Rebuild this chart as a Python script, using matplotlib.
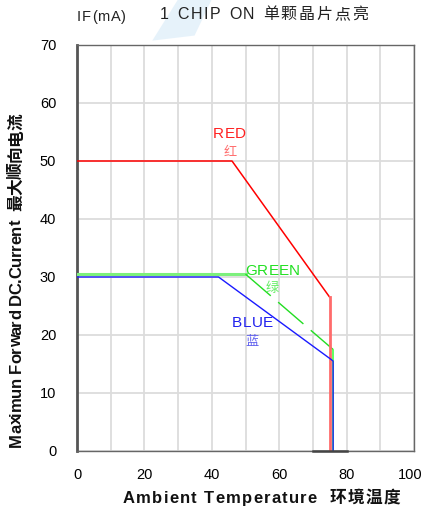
import matplotlib.pyplot as plt
from matplotlib.patches import Polygon
from matplotlib.transforms import IdentityTransform, ScaledTranslation

plt.rcParams['font.family'] = ['Liberation Sans', 'Noto Sans CJK SC', 'DejaVu Sans']

# derating curves, temperature (C) vs current (mA)
red_t = [0, 46, 75, 75]
red_i = [50, 50, 26.5, 0]
green_flat_t = [0, 50]
green_flat_i = [30.5, 30.5]
green_t = [50, 76, 76]
green_i = [30.5, 17.5, 0]
blue_t = [0, 42, 75.6, 76, 76]
blue_i = [30, 30, 15.7, 15.5, 0]

x_ticks = [0, 20, 40, 60, 80, 100]
y_ticks = [0, 10, 20, 30, 40, 50, 60, 70]

W, H = 423, 508
fig = plt.figure(figsize=(W / 100, H / 100), dpi=100)
ax = fig.add_axes([77 / W, 1 - 451 / H, 337 / W, 406 / H])
renderer = fig.canvas.get_renderer()


def text_w(s, size, **kw):
    t = fig.text(0, 0, s, fontsize=size, **kw)
    w = t.get_window_extent(renderer).width
    t.remove()
    return w


def spaced_text(x0, x1, base, s, size, rotation=0, **kw):
    # spread the characters of s between x0 and x1 (pixels from top-left) with extra tracking
    # for rotated text x0/x1 run along y and base is the x of the baseline
    bars = text_w('||', size, **kw)
    adv = [text_w('|' + ch + '|', size, **kw) - bars for ch in s]
    gap = (abs(x1 - x0) - sum(adv)) / (len(s) - 1)
    pos = 0.0
    for ch, w in zip(s, adv):
        if ch != ' ':
            if rotation == 0:
                fig.text(x0 + pos, H - base, ch, fontsize=size, ha='left', va='baseline',
                         transform=IdentityTransform(), **kw)
            else:
                fig.text(base, H - x1 + pos, ch, fontsize=size, ha='left', va='baseline',
                         rotation=90, rotation_mode='anchor',
                         transform=IdentityTransform(), **kw)
        pos += w + gap


# faint watermark behind the title
fig.patches.append(Polygon([[0.36, 0.92], [0.42, 1.0], [0.50, 1.0], [0.46, 0.93]],
                           closed=True, transform=fig.transFigure,
                           facecolor='#d6eaf8', edgecolor='none', alpha=0.6, zorder=0))

ax.set_xlim(0, 100)
ax.set_ylim(0, 70)
ax.set_yticks(y_ticks)
ax.set_xticks(x_ticks)
ax.grid(True, color='#dcdcdc', lw=1.3)
ax.set_axisbelow(True)
for x in range(10, 100, 20):
    ax.axvline(x, color='#dcdcdc', lw=1.3, zorder=0)
ax.tick_params(length=0, labelsize=10.5, pad=12)
ax.tick_params(axis='y', pad=15)
ax.xaxis.get_ticklabels()[-1].set_transform(
    ax.xaxis.get_ticklabels()[-1].get_transform() + ScaledTranslation(-0.04, 0, fig.dpi_scale_trans))

for side in ['top', 'right', 'bottom']:
    ax.spines[side].set_color('#666666')
    ax.spines[side].set_linewidth(1)
ax.spines['left'].set_color('#555555')
ax.spines['left'].set_linewidth(2)

# darker base segment
ax.plot([70, 80], [0, 0], color='#444444', lw=1.8, clip_on=False, zorder=5)

ax.plot(red_t[:3], red_i[:3], color='#ff0000', lw=1.1, zorder=4)
ax.plot(red_t[2:], red_i[2:], color='#ff6b6b', lw=2, zorder=4)
ax.plot(green_flat_t, green_flat_i, color='#7cf07c', lw=2.2, zorder=3)
ax.plot(green_t[:2], green_i[:2], color='#22dd22', lw=1, dashes=(24, 7), zorder=3)
ax.plot(green_t[1:], green_i[1:], color='#44ff44', lw=1.2, zorder=3)
ax.plot(blue_t, blue_i, color='#1a1aff', lw=1, zorder=4)

cjk = dict(family=['Noto Sans CJK SC'])
spaced_text(213, 246, 138, 'RED', 11, color='#ff2020')
fig.text(230, H - 152, '红', color='#ff7070', fontsize=9.5, ha='center', va='center',
         transform=IdentityTransform(), **cjk)
spaced_text(245, 300, 275, 'GREEN', 11, color='#22e022')
fig.text(272, H - 288, '绿', color='#66ee66', fontsize=9.5, ha='center', va='center',
         transform=IdentityTransform(), **cjk)
spaced_text(232, 273, 327, 'BLUE', 11, color='#2020ee')
fig.text(252, H - 341, '蓝', color='#6060ee', fontsize=9.5, ha='center', va='center',
         transform=IdentityTransform(), **cjk)

spaced_text(77, 126, 21, 'IF(mA)', 10.5, color='#222222')
spaced_text(160, 368, 19, '1 CHIP ON 单颗晶片点亮', 11.5, color='#222222')

spaced_text(123, 400, 503, 'Ambient Temperature  环境温度', 12, fontweight='bold',
            color='#111111')
spaced_text(113, 447, 21, 'Maximun Forward DC.Current  最大顺向电流', 12, rotation=90,
            fontweight='bold', color='#111111')

fig.savefig('out.png', dpi=100)
